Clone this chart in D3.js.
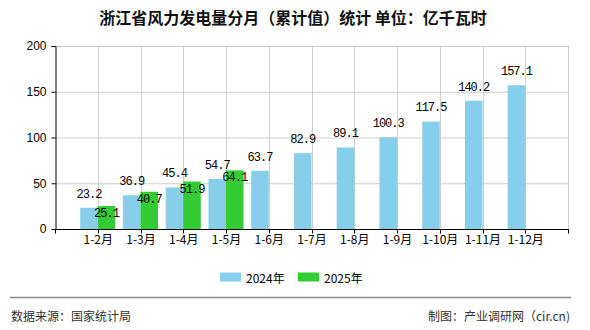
<!DOCTYPE html>
<html><head><meta charset="utf-8">
<script src="https://cdn.jsdelivr.net/npm/d3@7"></script>
<style>
html,body{margin:0;padding:0;background:#fff;}
svg{display:block;font-family:"Noto Sans CJK SC","Noto Sans",sans-serif;}
</style></head>
<body><svg id="c" width="590" height="330"></svg>
<script>
const categories = ["1-2月","1-3月","1-4月","1-5月","1-6月","1-7月","1-8月","1-9月","1-10月","1-11月","1-12月"];
const seriesNames = ["2024年","2025年"];
const values2024 = [23.2,36.9,45.4,54.7,63.7,82.9,89.1,100.3,117.5,140.2,157.1];
const values2025 = [25.1,40.7,51.9,64.1];
const yTicks = [0,50,100,150,200];
const colors = ["#87CEEB","#33CC33"];
const title = "浙江省风力发电量分月（累计值）统计 单位：亿千瓦时";
const sourceText = "数据来源：国家统计局";
const creditText = "制图：产业调研网（cir.cn)";

const svg = d3.select("#c");
const L = 55, R = 568, T = 46, B = 229;
const CJK = '"Noto Sans CJK SC","Noto Sans",sans-serif';
const MONO = '"Liberation Mono","DejaVu Sans Mono",monospace';

const x = d3.scalePoint().domain(categories).range([L, R]).padding(1);
const step = x.step();
const xs = d3.scaleBand().domain(seriesNames).range([-step*0.41, step*0.41]).padding(0);
const y = d3.scaleLinear().domain([0,200]).range([B, T]);

// title
svg.append("text").attr("x", 293).attr("y", 17).attr("text-anchor","middle")
  .attr("dominant-baseline","central").style("font-size","16px").style("font-weight","bold")
  .style("font-family",CJK).attr("fill","#111").text(title);

// horizontal grid
svg.append("g").selectAll("line").data(yTicks.filter(d=>d>0)).join("line")
  .attr("x1", L).attr("x2", R).attr("y1", d=>y(d)+0.5).attr("y2", d=>y(d)+0.5)
  .attr("stroke","#cccccc");
// vertical grid
svg.append("g").selectAll("line").data(categories).join("line")
  .attr("x1", d=>Math.round(x(d))+0.5).attr("x2", d=>Math.round(x(d))+0.5)
  .attr("y1", T).attr("y2", B).attr("stroke","#cccccc");
svg.append("line").attr("x1",R+0.5).attr("x2",R+0.5).attr("y1",T).attr("y2",B).attr("stroke","#cccccc");

// bars
const series = [values2024, values2025];
series.forEach((vals, si) => {
  const name = seriesNames[si];
  const data = vals.map((v,i)=>({c:categories[i], v}));
  svg.append("g").selectAll("rect").data(data).join("rect")
    .attr("x", d=>x(d.c)+xs(name))
    .attr("width", xs.bandwidth())
    .attr("y", d=>y(d.v))
    .attr("height", d=>B - y(d.v))
    .attr("fill", colors[si]);
});
// labels
series.forEach((vals, si) => {
  const name = seriesNames[si];
  const data = vals.map((v,i)=>({c:categories[i], v}));
  svg.append("g").selectAll("text").data(data).join("text")
    .attr("x", d=>x(d.c)+xs(name)+xs.bandwidth()/2)
    .attr("y", d=> si===0 ? y(d.v)-13 : y(d.v)+8)
    .attr("text-anchor","middle").attr("dominant-baseline","central")
    .attr("fill","#000")
    .style("font-size","12px").style("font-family",MONO).style("letter-spacing","-1px")
    .text(d=>d.v.toFixed(1));
});

// y axis
const yAxis = d3.axisLeft(y).tickValues(yTicks).tickSize(4).tickPadding(5);
const gy = svg.append("g").attr("transform",`translate(${L+0.5},0)`).call(yAxis);
gy.attr("font-family",null).attr("font-size",null);
gy.select(".domain").attr("stroke","#000");
gy.selectAll(".tick line").attr("stroke","#000");
gy.selectAll(".tick text").attr("fill","#000")
  .style("font-size","12px").style("font-family",'"Liberation Sans",Arial,sans-serif');

// x axis
const xAxis = d3.axisBottom(x).tickSize(0).tickPadding(6);
const gx = svg.append("g").attr("transform",`translate(0,${B+0.5})`).call(xAxis);
gx.select(".domain").attr("d", `M${L},0H${R+1}`).attr("stroke","#000");
gx.selectAll(".tick text").attr("fill","#000").style("font-size","12px").style("font-family",CJK);
const boundaries = [L].concat(categories.map(c=>x(c))).concat([R]);
gx.append("g").selectAll("line").data(boundaries).join("line")
  .attr("x1", d=>Math.round(d)+0.5).attr("x2", d=>Math.round(d)+0.5)
  .attr("y1",0).attr("y2",4).attr("stroke","#000");

// legend
const leg = svg.append("g");
const legX = [220, 298];
seriesNames.forEach((n,i)=>{
  leg.append("rect").attr("x",legX[i]).attr("y",272.5).attr("width",21).attr("height",9).attr("fill",colors[i]);
  leg.append("text").attr("x",legX[i]+26).attr("y",277).attr("dominant-baseline","central")
    .attr("fill","#000").style("font-size","12px").style("font-family",CJK).text(n);
});

// footer
svg.append("line").attr("x1",10).attr("x2",571).attr("y1",297.5).attr("y2",297.5)
  .attr("stroke","#888").attr("stroke-width",1.5);
svg.append("text").attr("x",11).attr("y",315).attr("dominant-baseline","central")
  .attr("fill","#333").style("font-size","12px").style("font-family",CJK).text(sourceText);
svg.append("text").attr("x",570).attr("y",315).attr("text-anchor","end").attr("dominant-baseline","central")
  .attr("fill","#333").style("font-size","12px").style("font-family",CJK).text(creditText);
</script></body></html>
